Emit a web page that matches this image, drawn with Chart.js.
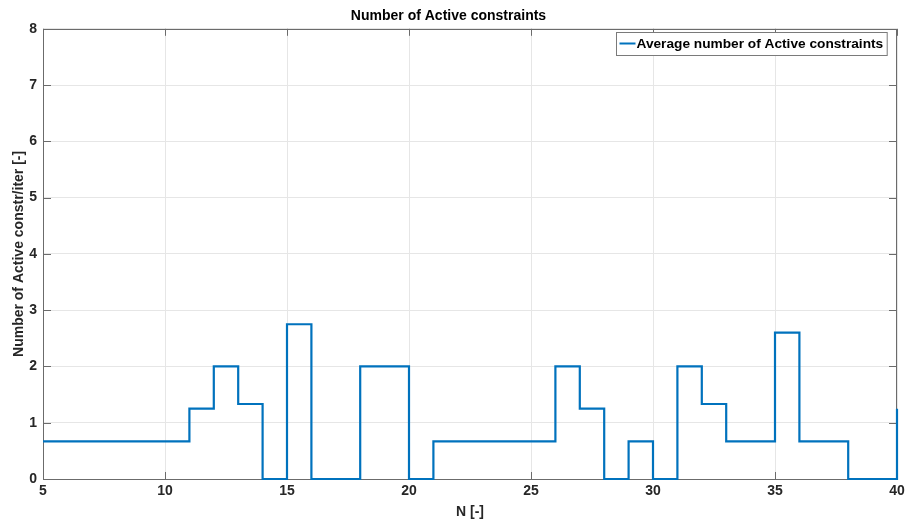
<!DOCTYPE html>
<html lang="en">
<head>
    <meta charset="UTF-8">
    <title>Number of Active constraints</title>
    <script src="https://cdn.jsdelivr.net/npm/chart.js"></script>
    <style>
        html, body { margin: 0; padding: 0; background: #fff; }
        .chart-box { width: 906px; height: 526px; }
    </style>
</head>
<body>
    <div class="chart-box">
        <canvas id="activeChart"></canvas>
    </div>

    <script>
        // horizon length N and the average active constraints per iteration (stairs)
        const horizonN = [5, 6, 7, 8, 9, 10, 11, 12, 13, 14, 15, 16, 17, 18, 19, 20, 21, 22,
            23, 24, 25, 26, 27, 28, 29, 30, 31, 32, 33, 34, 35, 36, 37, 38, 39, 40];
        const avgActive = [0.667, 0.667, 0.667, 0.667, 0.667, 0.667, 1.25, 2, 1.333, 0, 2.75, 0, 0, 2, 2, 0, 0.667, 0.667,
            0.667, 0.667, 0.667, 2, 1.25, 0, 0.667, 0, 2, 1.333, 0.667, 0.667, 2.6, 0.667, 0.667, 0, 0, 1.25];
        const xTicks = [5, 10, 15, 20, 25, 30, 35, 40];
        const yTicks = [0, 1, 2, 3, 4, 5, 6, 7, 8];

        const fontFamily = "'Liberation Sans', Arial, Helvetica, sans-serif";
        const lineColor = '#0072BD';
        const axisColor = '#262626';

        // MATLAB-ish box with inward ticks (under the line) + boxed legend (on top)
        const matlabAxes = {
            id: 'matlabAxes',
            beforeDatasetsDraw(chart) {
                const ctx = chart.ctx;
                const area = chart.chartArea;
                const xs = chart.scales.x;
                const ys = chart.scales.y;
                ctx.save();
                ctx.strokeStyle = '#6b6b6b';
                ctx.lineWidth = 1;
                ctx.strokeRect(Math.round(area.left) + 0.5, Math.round(area.top) + 0.5,
                    Math.round(area.right - area.left) - 1, Math.round(area.bottom - area.top));

                ctx.beginPath();
                xTicks.forEach(v => {
                    const px = Math.round(xs.getPixelForValue(v)) + 0.5;
                    ctx.moveTo(px, area.bottom);
                    ctx.lineTo(px, area.bottom - 7);
                    ctx.moveTo(px, area.top);
                    ctx.lineTo(px, area.top + 7);
                });
                yTicks.forEach(v => {
                    const py = Math.round(ys.getPixelForValue(v)) + 0.5;
                    ctx.moveTo(area.left, py);
                    ctx.lineTo(area.left + 8, py);
                    ctx.moveTo(area.right, py);
                    ctx.lineTo(area.right - 8, py);
                });
                ctx.stroke();
                ctx.restore();
            },
            afterDraw(chart) {
                const ctx = chart.ctx;
                const area = chart.chartArea;
                ctx.save();
                const label = chart.data.datasets[0].label;
                ctx.font = 'bold 13.7px ' + fontFamily;
                const tw = ctx.measureText(label).width;
                const boxW = tw + 24;
                const boxH = 23;
                const bx = Math.round(area.right - 10 - boxW) + 0.5;
                const by = Math.round(area.top + 3) + 0.5;
                ctx.fillStyle = '#fff';
                ctx.fillRect(bx, by, boxW, boxH);
                ctx.strokeStyle = '#7a7a7a';
                ctx.lineWidth = 1;
                ctx.strokeRect(bx, by, boxW, boxH);
                ctx.strokeStyle = lineColor;
                ctx.lineWidth = 2;
                ctx.beginPath();
                ctx.moveTo(bx + 3, by + 11);
                ctx.lineTo(bx + 19, by + 11);
                ctx.stroke();
                ctx.fillStyle = '#000';
                ctx.textBaseline = 'middle';
                ctx.fillText(label, bx + 20, by + 12);
                ctx.restore();
            }
        };

        new Chart(document.getElementById('activeChart'), {
            type: 'line',
            data: {
                datasets: [{
                    label: 'Average number of Active constraints',
                    data: horizonN.map((n, i) => ({ x: n, y: avgActive[i] })),
                    borderColor: lineColor,
                    borderWidth: 2.2,
                    stepped: 'before',
                    pointRadius: 0,
                    fill: false,
                    clip: false
                }]
            },
            options: {
                responsive: true,
                maintainAspectRatio: false,
                animation: false,
                layout: { padding: { top: 0, right: 9, bottom: 0, left: 0 } },
                plugins: {
                    legend: { display: false },
                    tooltip: { enabled: false },
                    title: {
                        display: true,
                        text: 'Number of Active constraints',
                        color: '#000',
                        font: { family: fontFamily, size: 14, weight: 'bold' },
                        padding: { top: 8, bottom: 4 }
                    }
                },
                scales: {
                    x: {
                        type: 'linear',
                        min: 5,
                        max: 40,
                        afterFit(scale) {
                            scale.height = 47;
                            scale.paddingLeft = 0;
                            scale.paddingRight = 0;
                        },
                        afterBuildTicks(scale) { scale.ticks = xTicks.map(v => ({ value: v })); },
                        ticks: {
                            color: axisColor,
                            font: { family: fontFamily, size: 14, weight: 'bold' },
                            padding: 4,
                            maxRotation: 0
                        },
                        grid: { color: '#e6e6e6', drawTicks: false },
                        border: { display: false },
                        title: {
                            display: true,
                            text: 'N [-]',
                            color: axisColor,
                            font: { family: fontFamily, size: 14, weight: 'bold' },
                            padding: { top: 0, bottom: 5 }
                        }
                    },
                    y: {
                        min: 0,
                        max: 8,
                        afterFit(scale) { scale.width = 43; },
                        afterBuildTicks(scale) { scale.ticks = yTicks.map(v => ({ value: v })); },
                        ticks: {
                            color: axisColor,
                            font: { family: fontFamily, size: 14, weight: 'bold' },
                            padding: 6
                        },
                        grid: { color: '#e6e6e6', drawTicks: false },
                        border: { display: false },
                        title: {
                            display: true,
                            text: 'Number of Active constr/iter [-]',
                            color: axisColor,
                            font: { family: fontFamily, size: 14, weight: 'bold' },
                            padding: { top: 11, bottom: 0 }
                        }
                    }
                }
            },
            plugins: [matlabAxes]
        });
    </script>
</body>
</html>
